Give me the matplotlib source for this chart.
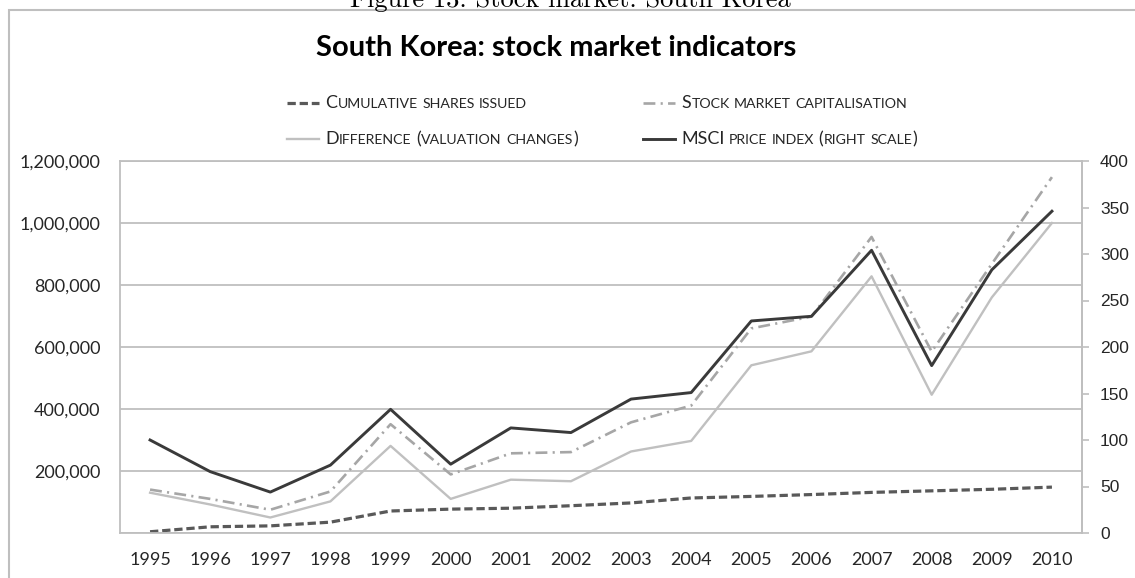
import matplotlib
matplotlib.use('Agg')
import matplotlib.pyplot as plt
import numpy as np
from matplotlib.lines import Line2D
from matplotlib.patches import Rectangle
from matplotlib.ticker import FuncFormatter, MultipleLocator

# data
years = ['1995', '1996', '1997', '1998', '1999', '2000', '2001', '2002',
         '2003', '2004', '2005', '2006', '2007', '2008', '2009', '2010']

# left scale
shares_issued = [4000, 20000, 23000, 35000, 71000, 77000, 80000, 88000,
                 97000, 113000, 118000, 124000, 131000, 136000, 141000, 148000]
market_cap = [140000, 110000, 75000, 134000, 351000, 189000, 257000, 261000,
              357000, 411000, 660000, 698000, 955000, 585000, 868000, 1148000]
valuation_diff = [130000, 92000, 50000, 102000, 281000, 110000, 172000, 167000,
                  263000, 297000, 541000, 586000, 828000, 446000, 760000, 1000000]

# right scale
msci_index = [100, 66, 44, 73, 133, 74, 113, 108,
              144, 151, 228, 233, 304, 180, 283, 346]

labels = ['Cumulative shares issued', 'Stock market capitalisation',
          'Difference (valuation changes)', 'MSCI price index (right scale)']

# figure size in pixels
W, H = 1135, 578
grey = '#bfbfbf'
text_col = '#262626'

styles = [
    dict(color='#595959', lw=2.3, linestyle=(0, (2.6, 1.2))),
    dict(color='#a6a6a6', lw=1.9, linestyle=(0, (4.5, 2.0, 0.8, 2.0))),
    dict(color='#c0c0c0', lw=1.7, linestyle='-'),
    dict(color='#3a3a3a', lw=2.1, linestyle='-'),
]

fig = plt.figure(figsize=(W / 100, H / 100), dpi=100)

# axes box: left 120, right 1082, top 161, bottom 533 px
ax = fig.add_axes([120 / W, 1 - 533 / H, (1082 - 120) / W, (533 - 161) / H])
ax2 = ax.twinx()

x = np.arange(len(years))
ax.plot(x, shares_issued, **styles[0])
ax.plot(x, market_cap, **styles[1])
ax.plot(x, valuation_diff, **styles[2])
ax2.plot(x, msci_index, **styles[3])

ax.set_xlim(-0.5, len(years) - 0.5)
ax.set_xticks(x)
ax.set_xticklabels(years)
ax.set_ylim(0, 1200000)
ax.yaxis.set_major_locator(MultipleLocator(200000))
ax.yaxis.set_major_formatter(FuncFormatter(lambda v, p: f'{v:,.0f}' if v > 0 else ''))
ax.grid(axis='y', color=grey, lw=1.3)
ax.set_axisbelow(True)
ax.tick_params(axis='y', length=0, pad=14, labelsize=13, labelcolor=text_col)
ax.tick_params(axis='x', length=0, pad=14, labelsize=13, labelcolor=text_col)
for lab in ax.get_xticklabels() + ax.get_yticklabels():
    lab.set_family('Lato')
for s in ax.spines.values():
    s.set_color(grey)
    s.set_linewidth(1.3)

ax2.set_ylim(0, 400)
ax2.yaxis.set_major_locator(MultipleLocator(50))
ax2.tick_params(axis='y', direction='out', length=5, width=1.2, color=grey,
                pad=8, labelsize=12.5, labelcolor=text_col)
for lab in ax2.get_yticklabels():
    lab.set_family('Liberation Sans')
for name, s in ax2.spines.items():
    s.set_visible(name == 'right')
    s.set_color(grey)
    s.set_linewidth(1.3)

# outer chart frame (only left and top edge are inside the picture)
fig.add_artist(Rectangle((9 / W, -0.5), 2, 1.5 - 10 / H, transform=fig.transFigure,
                         fill=False, ec=grey, lw=1.5, clip_on=False))

# cut-off caption from the document above the chart
fig.text(570 / W, 1 - 7 / H, 'Figure 13: Stock market: South Korea',
         family='cmr10', fontsize=19, ha='center', va='baseline', color='black')

fig.text(556 / W, 1 - 56 / H, 'South Korea: stock market indicators',
         family='Lato', fontweight='bold', fontsize=21, ha='center',
         va='baseline', color='black')

renderer = fig.canvas.get_renderer()


def small_caps(px, py, text, big=13, small=10.2):
    # capitals and brackets full size, everything else as small capitals
    runs = []
    for ch in text:
        if ch == ' ':
            kind = 'space'
        elif ch.isupper() or ch in '()':
            kind = 'big'
        else:
            kind = 'small'
        if runs and runs[-1][1] == kind:
            runs[-1][0] += ch
        else:
            runs.append([ch, kind])
    for part, kind in runs:
        if kind == 'space':
            px += len(part) * small * 100 / 72 * 0.28
            continue
        size = big if kind == 'big' else small
        t = fig.text(px / W, 1 - py / H, part.upper(), fontsize=size,
                     family='Lato', color=text_col, va='baseline')
        px += t.get_window_extent(renderer).width + 0.5


# legend, two rows by two columns
legend_pos = [(287, 108), (643, 108), (287, 144), (643, 144)]
for (lx, ly), lab, st in zip(legend_pos, labels, styles):
    fig.add_artist(Line2D([lx / W, (lx + 32) / W], [1 - (ly - 5) / H] * 2,
                          transform=fig.transFigure, **st))
    small_caps(lx + 38, ly, lab)

fig.savefig('out.png', dpi=100)
